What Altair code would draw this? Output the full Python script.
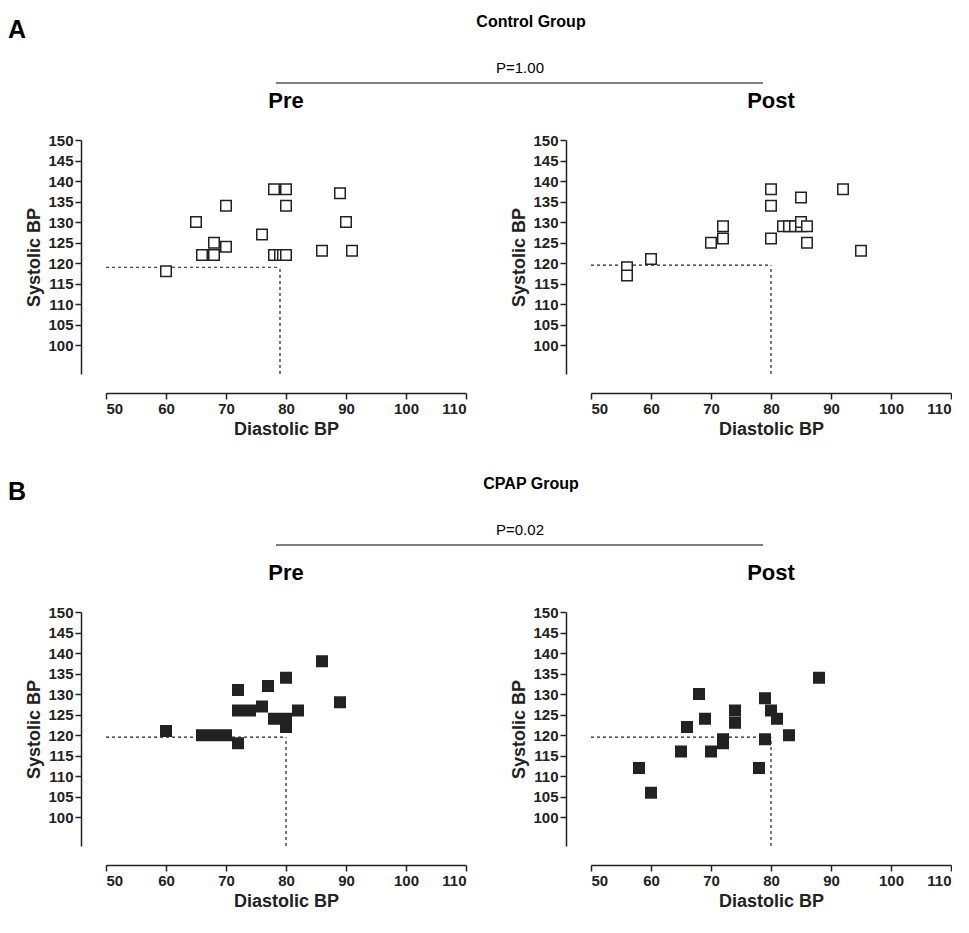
import altair as alt
import pandas as pd

FONT = "Liberation Sans"

# Control group
ctl_pre_dia = [60, 65, 66, 68, 68, 70, 70, 76, 78, 80, 80, 78, 79, 79.5, 80, 86, 89, 90, 91]
ctl_pre_sys = [118, 130, 122, 125, 122, 134, 124, 127, 138, 138, 134, 122, 122, 122, 122, 123, 137, 130, 123]
ctl_post_dia = [56, 56, 60, 70, 72, 72, 80, 80, 80, 82, 83, 84, 85, 85, 86, 85, 86, 92, 95]
ctl_post_sys = [119, 117, 121, 125, 129, 126, 138, 134, 126, 129, 129, 129, 129, 130, 129, 136, 125, 138, 123]
# CPAP group
cpap_pre_dia = [60, 66, 68, 70, 72, 72, 72, 74, 76, 77, 78, 80, 80, 80, 82, 86, 89]
cpap_pre_sys = [121, 120, 120, 120, 118, 131, 126, 126, 127, 132, 124, 134, 124, 122, 126, 138, 128]
cpap_post_dia = [58, 60, 65, 66, 68, 69, 70, 72, 72, 74, 74, 78, 79, 79, 80, 81, 83, 88]
cpap_post_sys = [112, 106, 116, 122, 130, 124, 116, 119, 118, 126, 123, 112, 129, 119, 126, 124, 120, 134]

# mean reference (x, y) per panel
ref_ctl_pre = (79, 119)
ref_ctl_post = (80, 119.5)
ref_cpap_pre = (80, 119.5)
ref_cpap_post = (80, 119.5)

X_DOMAIN = [50, 110]
Y_DOMAIN = [93, 150]
X_TICKS = [50, 60, 70, 80, 90, 100, 110]
Y_TICKS = [100, 105, 110, 115, 120, 125, 130, 135, 140, 145, 150]


def panel(dia, sys_, ref, title, filled):
    df = pd.DataFrame({"dia": dia, "sys": sys_})
    xs = alt.Scale(domain=X_DOMAIN, nice=False, zero=False)
    ys = alt.Scale(domain=Y_DOMAIN, nice=False, zero=False)
    xaxis = alt.Axis(values=X_TICKS, offset=19)
    yaxis = alt.Axis(values=Y_TICKS, offset=25)
    rdf = pd.DataFrame({"x0": [X_DOMAIN[0], ref[0]], "x1": [ref[0], ref[0]],
                        "y0": [ref[1], Y_DOMAIN[0]], "y1": [ref[1], ref[1]]})
    lines = alt.Chart(rdf).mark_rule(strokeDash=[3, 3], color="#222", strokeWidth=1.2).encode(
        x=alt.X("x0:Q", scale=xs, axis=xaxis, title="Diastolic BP"), x2="x1",
        y=alt.Y("y0:Q", scale=ys, axis=yaxis, title="Systolic BP"), y2="y1")
    pts = alt.Chart(df).mark_square(
        size=110, filled=True, stroke="#222", strokeWidth=1.5,
        fill="#222" if filled else "white", opacity=1,
    ).encode(
        x=alt.X("dia:Q", scale=xs, title="Diastolic BP", axis=xaxis),
        y=alt.Y("sys:Q", scale=ys, title="Systolic BP", axis=yaxis),
    )
    return alt.layer(lines, pts).properties(
        width=360, height=234,
        title=alt.TitleParams(title, fontSize=22, font=FONT, fontWeight="bold", offset=20),
    )


def header(letter, group, pval, top, height):
    base = alt.Chart(pd.DataFrame({"a": [0]}))
    a = base.mark_text(text=letter, font=FONT, fontSize=25, fontWeight="bold", align="left").encode(
        x=alt.value(-98), y=alt.value(top + 22))
    g = base.mark_text(text=group, font=FONT, fontSize=16, fontWeight="bold").encode(
        x=alt.value(425), y=alt.value(top + 14))
    p = base.mark_text(text=pval, font=FONT, fontSize=15).encode(
        x=alt.value(414), y=alt.value(top + 60))
    r = base.mark_rule(color="black", strokeWidth=1.2).encode(
        x=alt.value(170), x2=alt.value(657), y=alt.value(top + 75))
    return alt.layer(a, g, p, r).properties(width=780, height=height)


row_a = alt.hconcat(
    panel(ctl_pre_dia, ctl_pre_sys, ref_ctl_pre, "Pre", False),
    panel(ctl_post_dia, ctl_post_sys, ref_ctl_post, "Post", False),
    spacing=43,
)
row_b = alt.hconcat(
    panel(cpap_pre_dia, cpap_pre_sys, ref_cpap_pre, "Pre", True),
    panel(cpap_post_dia, cpap_post_sys, ref_cpap_post, "Post", True),
    spacing=43,
)

chart = alt.vconcat(
    header("A", "Control Group", "P=1.00", 0, 82), row_a,
    header("B", "CPAP Group", "P=0.02", 32, 124), row_b,
    spacing=0,
).properties(padding=0).configure_view(stroke=None).configure_axis(
    labelFont=FONT, titleFont=FONT, labelFontSize=15, titleFontSize=18,
    labelFontWeight="bold", titleFontWeight="bold", labelColor="#222", titleColor="#222",
    domainColor="#222", tickColor="#222", domainWidth=1.5, tickWidth=1.5, tickSize=6,
    grid=False, labelPadding=2, titlePadding=4, labelOverlap=False,
)

chart.save("out.html", embed_options={"renderer": "svg", "actions": False})
